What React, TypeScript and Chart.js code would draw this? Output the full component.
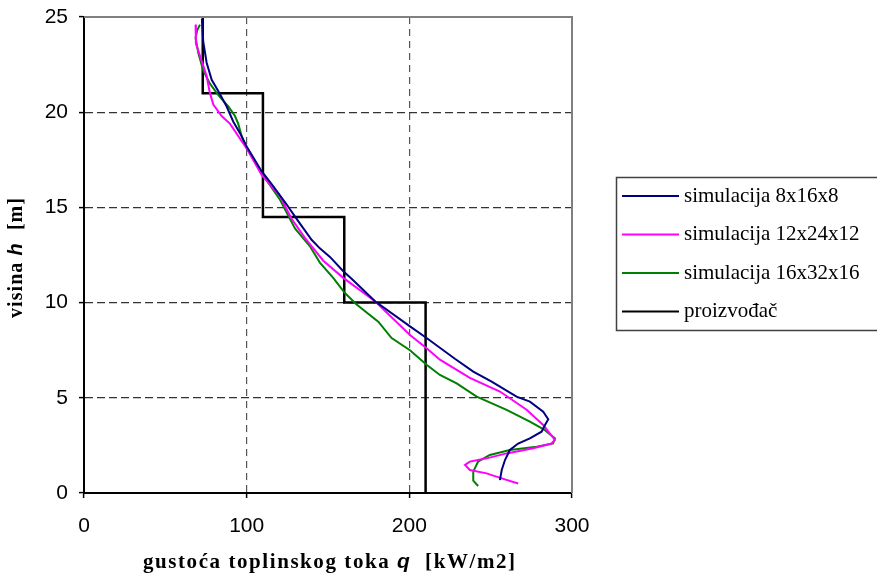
import React, { useEffect, useRef } from "react";
import { Chart, registerables } from "chart.js";

Chart.register(...registerables);

type P = { x: number; y: number };
const toPts = (a: number[][]): P[] => a.map(([x, y]) => ({ x, y }));

const seriesNames = [
  "simulacija 8x16x8",
  "simulacija 12x24x12",
  "simulacija 16x32x16",
  "proizvođač",
];
const seriesColors = ["#000080", "#FF00FF", "#008000", "#000000"];

const sim8: number[][] = [
  [72.5, 24.9], [73.3, 23.7], [75.4, 22.6], [78.5, 21.7], [82.6, 21.1], [87.7, 20.3],
  [91.8, 19.5], [95.9, 18.9], [100, 18.2], [109.2, 16.9], [116.4, 16.1], [124.6, 15.15],
  [130.7, 14.4], [139.9, 13.3], [145, 12.85], [151.2, 12.4], [159.4, 11.65], [164.5, 11.25],
  [178.9, 10.07], [200.4, 8.75], [210.6, 8.14], [228, 7.05], [239.3, 6.38], [250.6, 5.85],
  [265.9, 5.06], [274.1, 4.8], [282.3, 4.27], [285.4, 3.87], [283.4, 3.57], [281.3, 3.22],
  [274.1, 2.87], [266.9, 2.6], [261.8, 2.26], [258.8, 1.73], [256.8, 1.21], [255.7, 0.68],
];

const sim12: number[][] = [
  [68.6, 24.6], [68.8, 23.6], [71.3, 22.96], [75.4, 21.9], [77.4, 21.0], [79.5, 20.4],
  [84.6, 19.8], [89.7, 19.4], [94.8, 18.75], [100, 18.1], [109.2, 16.7], [120.5, 15.6],
  [127.6, 14.4], [135.8, 13.4], [147.1, 12.2], [159.4, 11.3], [178.9, 10.07], [200.4, 8.3],
  [210.6, 7.6], [218.8, 7.0], [237.2, 6.05], [255.7, 5.33], [272.1, 4.37], [282.3, 3.57],
  [289.5, 2.79], [287.4, 2.6], [276.2, 2.35], [259.8, 2.08], [247.5, 1.82], [237.2, 1.65],
  [234.2, 1.47], [237.2, 1.21], [247.5, 1.03], [256.8, 0.77], [266.9, 0.5],
];

const sim16: number[][] = [
  [71.3, 24.6], [69.6, 24.3], [68.6, 23.9], [70.3, 23.1], [73.3, 22.2], [77.4, 21.5],
  [82.6, 20.9], [88.7, 20.3], [92.8, 19.8], [94.8, 19.4], [96.9, 18.75], [100, 18.1],
  [109.2, 16.8], [120.5, 15.4], [129.7, 13.9], [138.9, 12.96], [145, 12.1], [153.2, 11.3],
  [160.4, 10.5], [167.6, 9.9], [180.9, 9.0], [189.1, 8.14], [200.4, 7.5], [210.6, 6.74],
  [218.8, 6.2], [229.1, 5.76], [241.4, 5.06], [259.8, 4.37], [274.1, 3.75], [283.4, 3.3],
  [289.5, 2.87], [288.4, 2.6], [278.2, 2.43], [261.8, 2.26], [249.5, 2.0], [242.3, 1.65],
  [239.3, 1.12], [239.3, 0.65], [242.3, 0.37],
];

const producer: number[][] = [
  [210, 0], [210, 10], [160, 10], [160, 14.5], [110, 14.5], [110, 21], [73, 21], [73, 25],
];

const xTicks = [0, 100, 200, 300];
const yTicks = [0, 5, 10, 15, 20, 25];

const xTitle = [
  { t: "gustoća toplinskog toka ", f: 'bold 21px "Liberation Serif"' },
  { t: "q", f: 'bold italic 21px "Liberation Sans"' },
  { t: "  [kW/m2]", f: 'bold 21px "Liberation Serif"' },
];
const yTitle = [
  { t: "visina ", f: 'bold 20px "Liberation Serif"' },
  { t: "h", f: 'bold italic 20px "Liberation Sans"' },
  { t: "  [m]", f: 'bold 20px "Liberation Serif"' },
];

function drawSpread(
  ctx: CanvasRenderingContext2D,
  segs: { t: string; f: string }[],
  x0: number,
  y: number,
  target: number
) {
  const chars: { c: string; f: string; w: number }[] = [];
  for (const s of segs) {
    ctx.font = s.f;
    for (const c of s.t) chars.push({ c, f: s.f, w: ctx.measureText(c).width });
  }
  const nat = chars.reduce((a, b) => a + b.w, 0);
  const extra = (target - nat) / (chars.length - 1);
  let x = x0;
  ctx.textBaseline = "alphabetic";
  ctx.textAlign = "left";
  ctx.fillStyle = "#000";
  for (const ch of chars) {
    ctx.font = ch.f;
    ctx.fillText(ch.c, x, y);
    x += ch.w + extra;
  }
}

const decorPlugin = {
  id: "decor",
  afterDraw(chart: any) {
    const ctx: CanvasRenderingContext2D = chart.ctx;
    const a = chart.chartArea;
    ctx.save();
    ctx.strokeStyle = "#808080";
    ctx.lineWidth = 2;
    ctx.beginPath();
    ctx.moveTo(a.left, a.top);
    ctx.lineTo(a.right, a.top);
    ctx.lineTo(a.right, a.bottom);
    ctx.stroke();
    drawSpread(ctx, xTitle, 143, 568, 372);
    ctx.save();
    ctx.translate(22, 318);
    ctx.rotate(-Math.PI / 2);
    drawSpread(ctx, yTitle, 0, 0, 120);
    ctx.restore();
    ctx.strokeStyle = "#404040";
    ctx.lineWidth = 1.5;
    ctx.strokeRect(616.5, 177.5, 320, 153);
    const rows = [196, 234.5, 273, 311.5];
    ctx.font = '21px "Liberation Serif"';
    ctx.textBaseline = "middle";
    ctx.textAlign = "left";
    rows.forEach((ry, i) => {
      ctx.strokeStyle = seriesColors[i];
      ctx.lineWidth = 2;
      ctx.beginPath();
      ctx.moveTo(622, ry);
      ctx.lineTo(679, ry);
      ctx.stroke();
      ctx.fillStyle = "#000";
      ctx.fillText(seriesNames[i], 684, ry);
    });
    ctx.restore();
  },
};

export default function App() {
  const ref = useRef<HTMLCanvasElement>(null);
  useEffect(() => {
    if (!ref.current) return;
    const data = [sim8, sim12, sim16, producer];
    const chart = new Chart(ref.current, {
      type: "scatter",
      data: {
        datasets: data.map((d, i) => ({
          label: seriesNames[i],
          data: toPts(d),
          showLine: true,
          borderColor: seriesColors[i],
          backgroundColor: seriesColors[i],
          borderWidth: i === 3 ? 2.5 : 2,
          pointRadius: 0,
          tension: 0,
        })),
      },
      options: {
        animation: false,
        responsive: false,
        layout: { padding: { left: 0, right: 305, top: 17, bottom: 0 } },
        plugins: { legend: { display: false }, tooltip: { enabled: false } },
        scales: {
          x: {
            type: "linear",
            min: 0,
            max: 300,
            afterBuildTicks: (s: any) => {
              s.ticks = xTicks.map((v) => ({ value: v }));
            },
            afterFit: (s: any) => {
              s.height = 87;
              s.paddingLeft = 0;
              s.paddingRight = 0;
            },
            ticks: {
              font: { family: '"Liberation Sans", Arial', size: 21 },
              color: "#000",
              padding: 16,
              maxRotation: 0,
            },
            grid: {
              color: (c: any) =>
                c.tick && (c.tick.value === 0 || c.tick.value === 300) ? "rgba(0,0,0,0)" : "#555",
              tickColor: "#000",
              tickLength: 5,
              lineWidth: 1.2,
              tickWidth: 1.5,
            } as any,
            border: { display: true, color: "#000", width: 2, dash: [7, 5] } as any,
          },
          y: {
            type: "linear",
            min: 0,
            max: 25,
            afterBuildTicks: (s: any) => {
              s.ticks = yTicks.map((v) => ({ value: v }));
            },
            afterFit: (s: any) => {
              s.width = 84;
              s.paddingTop = 0;
              s.paddingBottom = 0;
            },
            ticks: {
              font: { family: '"Liberation Sans", Arial', size: 21 },
              color: "#000",
              padding: 11,
            },
            grid: {
              color: (c: any) =>
                c.tick && (c.tick.value === 0 || c.tick.value === 25) ? "rgba(0,0,0,0)" : "#333",
              tickColor: "#000",
              tickLength: 5,
              lineWidth: 1.2,
              tickWidth: 1.5,
            } as any,
            border: { display: true, color: "#000", width: 2, dash: [8, 4] } as any,
          },
        },
      },
      plugins: [decorPlugin],
    });
    return () => chart.destroy();
  }, []);
  return (
    <div style={{ position: "fixed", left: 0, top: 0, width: 877, height: 580, background: "#fff" }}>
      <canvas ref={ref} width={877} height={580} />
    </div>
  );
}
